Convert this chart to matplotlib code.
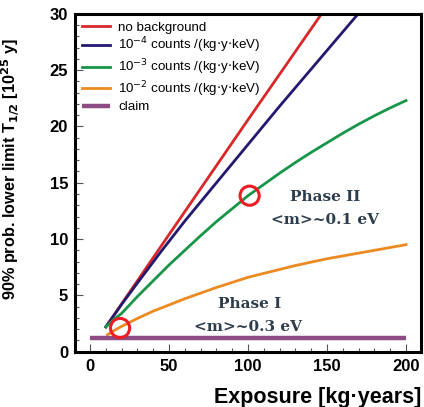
import matplotlib
matplotlib.use("Agg")
import matplotlib.pyplot as plt
from matplotlib.ticker import MultipleLocator

# ── Data ──────────────────────────────────────────────────────────────────────
exposure_red = [10, 50, 100, 150, 200]
limit_red    = [2.2, 10.4, 20.6, 30.7, 41.0]

exposure_blue = [10, 20, 30, 45, 60, 80, 100, 120, 140, 160, 180, 200]
limit_blue    = [2.2, 4.2, 6.1, 8.9, 11.6, 15.0, 18.4, 21.8, 25.1, 28.4, 31.7, 35.0]

exposure_green = [10, 15, 20, 30, 40, 50, 60, 70, 80, 90, 100, 110, 120, 130,
                  140, 150, 160, 170, 180, 190, 200]
limit_green    = [2.2, 2.85, 3.4, 4.9, 6.3, 7.7, 9.0, 10.3, 11.55, 12.7, 13.85,
                  14.85, 15.85, 16.8, 17.7, 18.55, 19.4, 20.2, 20.95, 21.65, 22.3]

exposure_orange = [11, 15, 20, 25, 30, 40, 50, 60, 70, 80, 90, 100, 110, 120,
                   130, 140, 150, 160, 170, 180, 190, 200]
limit_orange    = [1.5, 1.85, 2.25, 2.6, 2.95, 3.6, 4.15, 4.7, 5.2, 5.7, 6.15,
                   6.6, 6.95, 7.3, 7.65, 7.95, 8.25, 8.5, 8.75, 9.0, 9.25, 9.5]

exposure_claim = [0, 200]
limit_claim    = [1.2, 1.2]

circle_x = [19, 101]
circle_y = [2.1, 13.85]

labels = [
    "no background",
    r"10$^{-4}$ counts /(kg$\cdot$y$\cdot$keV)",
    r"10$^{-3}$ counts /(kg$\cdot$y$\cdot$keV)",
    r"10$^{-2}$ counts /(kg$\cdot$y$\cdot$keV)",
    "claim",
]

plt.rcParams["font.family"] = ["Liberation Sans", "DejaVu Sans"]

fig = plt.figure(figsize=(4.24, 4.07), dpi=100)
ax = fig.add_axes([0.177, 0.136, 0.816, 0.830])

lw = 2.0
ax.plot(exposure_red, limit_red, color="#d8282a", lw=lw, label=labels[0])
ax.plot(exposure_blue, limit_blue, color="#231a70", lw=lw, label=labels[1])
ax.plot(exposure_green, limit_green, color="#17964a", lw=lw, label=labels[2])
ax.plot(exposure_orange, limit_orange, color="#ec8a22", lw=lw, label=labels[3])
ax.plot(exposure_claim, limit_claim, color="#8e4a82", lw=3.2, label=labels[4],
        solid_capstyle="butt")

ax.scatter(circle_x, circle_y, s=190, facecolors="none", edgecolors="#ee1c24",
           linewidths=2.2, zorder=5)

serif = dict(family=["DejaVu Serif"], fontweight="bold", color="#2e3d4c",
             fontsize=11, ha="center", va="center")
ax.text(149, 13.7, "Phase II", **serif)
ax.text(149, 11.7, "<m>~0.1 eV", **serif)
ax.text(101, 4.2, "Phase I", **serif)
ax.text(100, 2.2, "<m>~0.3 eV", **serif)

ax.set_xlim(-9.5, 209.5)
ax.set_ylim(0, 30)
ax.xaxis.set_major_locator(MultipleLocator(50))
ax.xaxis.set_minor_locator(MultipleLocator(10))
ax.yaxis.set_major_locator(MultipleLocator(5))
ax.yaxis.set_minor_locator(MultipleLocator(1))
ax.tick_params(which="both", direction="in", top=False, right=False,
               color="#555555", width=0.8)
ax.tick_params(which="major", length=6, labelsize=12, pad=5)
ax.tick_params(which="minor", length=3)
for lab in ax.get_xticklabels() + ax.get_yticklabels():
    lab.set_fontweight("bold")
for s in ax.spines.values():
    s.set_linewidth(2.2)

ax.set_xlabel("Exposure [kg·years]", fontsize=15.5, fontweight="bold",
              loc="right")
ax.xaxis.set_label_coords(1.0, -0.105)
ax.set_ylabel(r"90% prob. lower limit T$_{\mathbf{1/2}}$ [10$^{\mathbf{25}}$ y]",
              fontsize=11.7, fontweight="bold")
ax.yaxis.set_label_coords(-0.153, 0.54)

leg = ax.legend(loc="upper left", frameon=False, fontsize=9.6,
                handlelength=2.1, handletextpad=0.6, labelspacing=0.16,
                borderaxespad=0.15, bbox_to_anchor=(0.0, 1.0))

fig.savefig("out.png", dpi=100)
